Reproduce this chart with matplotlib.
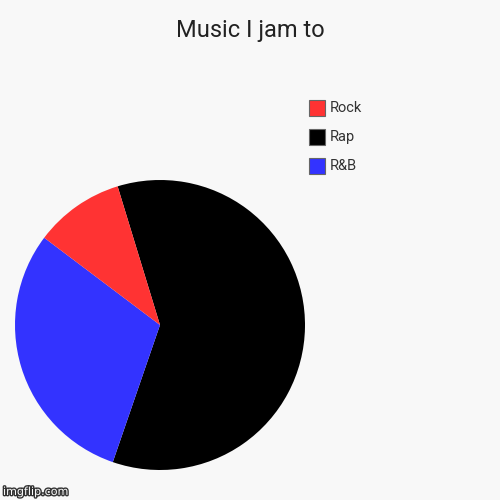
import matplotlib
matplotlib.use("Agg")
from matplotlib import pyplot as plt
from matplotlib.patches import Rectangle
import matplotlib.patheffects as pe

labels = ["Rock", "Rap", "R&B"]
values = [10, 60, 30]
colors = ["#ff3333", "#000000", "#3333ff"]

# pie draw order (clockwise from the top-left edge)
pie_order = [1, 2, 0]

bg = "#f8f8f8"
fig = plt.figure(figsize=(5, 5), dpi=100, facecolor=bg)

ax = fig.add_axes([0.03, 0.06, 0.58, 0.58])
ax.set_facecolor(bg)
ax.pie([values[i] for i in pie_order],
       colors=[colors[i] for i in pie_order],
       startangle=107, counterclock=False, radius=1,
       wedgeprops=dict(linewidth=0))
ax.set_xlim(-1, 1)
ax.set_ylim(-1, 1)
ax.set_aspect("equal")
ax.axis("off")

fig.text(0.5, 0.938, "Music I jam to", ha="center", va="center",
         fontsize=17, family="Roboto", color="#222222")

# legend
for k, (lab, col) in enumerate(zip(labels, colors)):
    y = 1 - (108 + 29 * k) / 500
    fig.patches.append(Rectangle((309 / 500, y - 0.015), 0.031, 0.031,
                                 transform=fig.transFigure, facecolor=col,
                                 edgecolor="#666666", linewidth=0.8))
    fig.text(330 / 500, y, lab, ha="left", va="center", fontsize=10.5,
             family="Roboto", color="#333333")

fig.text(0.006, 0.016, "imgflip.com", ha="left", va="center", fontsize=8,
         family="DejaVu Sans", color="white",
         path_effects=[pe.withStroke(linewidth=2, foreground="#333333")])

fig.savefig("out.png", dpi=100, facecolor=bg)
